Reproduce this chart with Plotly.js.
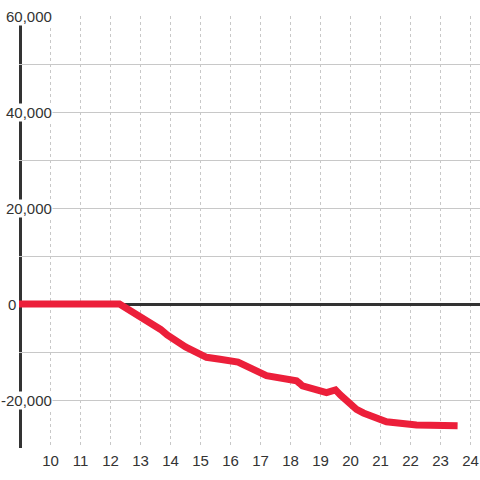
<!DOCTYPE html>
<html>
<head>
<meta charset="utf-8">
<script src="https://cdn.plot.ly/plotly-3.0.1.min.js"></script>
<style>html,body{margin:0;padding:0;background:#fff;}#chart{width:480px;height:480px;}</style>
</head>
<body>
<div id="chart"></div>
<script>
// Data
const hours  = [8.95, 12.3, 13.67, 13.89, 14.5, 15.0, 15.2, 15.65, 16.25, 17.2, 18.2, 18.3, 18.4, 19.2, 19.5, 19.67, 20.2, 20.43, 21.2, 22.2, 23.57];
const values = [0, 0, -5300, -6460, -8960, -10770, -11100, -11520, -12100, -14940, -15980, -16500, -17080, -18480, -17900, -19000, -21940, -22700, -24520, -25210, -25350];
const xTickVals = [10, 11, 12, 13, 14, 15, 16, 17, 18, 19, 20, 21, 22, 23, 24];
const yLabelVals = [60000, 40000, 20000, 0, -20000];
const yLabelText = ["60,000", "40,000", "20,000", "0", "-20,000"];

const FONT = "Liberation Sans, Arial, sans-serif";

const annotations = yLabelVals.map((v, i) => ({
  xref: "paper", yref: "y", x: 0, y: v,
  text: yLabelText[i], showarrow: false,
  xanchor: "right", yanchor: "middle",
  xshift: v === 0 ? -2 : 34,
  bgcolor: v === 0 ? "rgba(0,0,0,0)" : "#ffffff",
  borderpad: 0,
  font: {family: FONT, size: 15, color: "#333"}
}));

const trace = {
  x: hours, y: values, type: "scatter", mode: "lines",
  line: {color: "#ec1f3a", width: 7},
  hoverinfo: "skip"
};

const layout = {
  width: 480, height: 480,
  margin: {l: 19, r: 0, t: 16, b: 32},
  paper_bgcolor: "#ffffff", plot_bgcolor: "#ffffff",
  showlegend: false,
  xaxis: {
    range: [8.95, 8.95 + 461/30],
    tickvals: xTickVals,
    ticktext: xTickVals.map(String),
    showgrid: true, gridcolor: "#c8c8c8", gridwidth: 1, griddash: "dot",
    zeroline: false, showline: false, ticks: "",
    ticklabelstandoff: 2,
    tickfont: {family: FONT, size: 15, color: "#333"}
  },
  yaxis: {
    range: [-30000, 60000],
    dtick: 10000, tick0: 0,
    showgrid: true, gridcolor: "#c8c8c8", gridwidth: 1,
    zeroline: true, zerolinecolor: "#333", zerolinewidth: 3,
    showline: false, showticklabels: false, ticks: ""
  },
  shapes: [{
    type: "line", layer: "between", xref: "x", yref: "paper",
    x0: 9.0, x1: 9.0, y0: 0, y1: 1,
    line: {color: "#333", width: 3}
  }],
  annotations: annotations
};

Plotly.newPlot("chart", [trace], layout, {staticPlot: true, displayModeBar: false});
</script>
</body>
</html>
